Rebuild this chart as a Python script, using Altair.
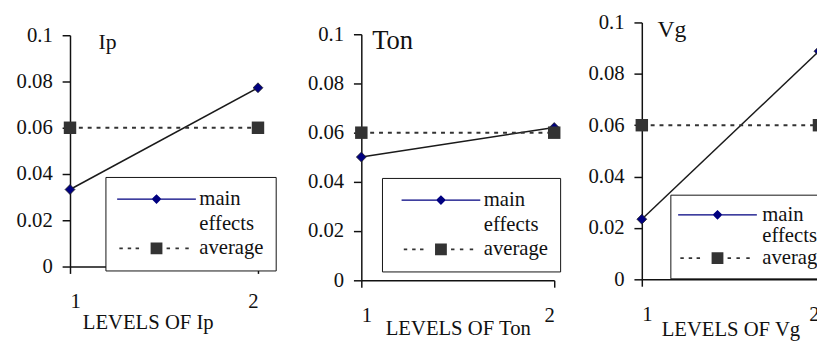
import altair as alt
import pandas as pd

# ---------------- data ----------------
factors = ["Ip", "Ton", "Vg"]
levels = [1, 2]
main_ip = [0.0333, 0.0773]
main_ton = [0.0501, 0.0621]
main_vg = [0.0234, 0.0888]
avg_ip = [0.06, 0.06]
avg_ton = [0.06, 0.06]
avg_vg = [0.06, 0.06]
y_ticks = [0, 0.02, 0.04, 0.06, 0.08, 0.1]
legend_labels = ["main", "effects", "average"]

main_vals = {"Ip": main_ip, "Ton": main_ton, "Vg": main_vg}
avg_vals = {"Ip": avg_ip, "Ton": avg_ton, "Vg": avg_vg}

# ---------------- style ----------------
FONT = "Liberation Serif"
INK = "#111111"
NAVY = "#000080"
DARK = "#333333"

# legend symbol paths (unit box [-1,1], scaled by symbol size)
P_MAIN = "M-8,-0.13H8V0.13H-8ZM0,-1L1,0L0,1L-1,0Z"
_dashes = "".join(
    f"M{c-0.35:.2f},-0.18H{c+0.35:.2f}V0.18H{c-0.35:.2f}Z"
    for c in [-7.2, -5.5, -3.9, 2.4, 4.2, 6.2]
)
P_AVG = "M-1.2,-1.2H1.2V1.2H-1.2Z" + _dashes
P_BLANK = "M0,0"

styles = {
    "Ip": dict(w=191, h=235, sp_h=2, sp_w=236, lx=36, ly=144, so=29.4, lo=33,
               pad=12, rp=3, nf=22, ndx=29, ndy=14, ty=46, tx=79),
    "Ton": dict(w=196, h=250, sp_h=1, sp_w=230, lx=21, ly=146, so=37.4, lo=33,
                pad=12, rp=3, nf=27, ndx=11, ndy=15, ty=38, tx=None),
    "Vg": dict(w=180, h=261, sp_h=0, sp_w=0, lx=29, ly=175, so=27.4, lo=35,
               pad=10, rp=0, nf=24, ndx=16, ndy=15, ty=40, tx=None),
}

IND = dict(color="independent", shape="independent")


def panel(name):
    st = styles[name]
    df = pd.DataFrame({
        "level": levels * 2,
        "value": main_vals[name] + avg_vals[name],
        "series": ["main"] * len(levels) + ["average"] * len(levels),
    })
    xaxis_kw = dict(values=levels, format="d", title=f"LEVELS OF {name}",
                    tickSize=7, labelPadding=18, titleY=st["ty"],
                    titleBaseline="top", labelFontSize=21, titleFontSize=21)
    if st["tx"] is not None:
        xaxis_kw["titleX"] = st["tx"]
    x = alt.X("level:Q",
              scale=alt.Scale(domain=[levels[0], levels[-1]], nice=False, zero=False),
              axis=alt.Axis(**xaxis_kw))
    y = alt.Y("value:Q",
              scale=alt.Scale(domain=[y_ticks[0], y_ticks[-1]], nice=False),
              axis=alt.Axis(values=y_ticks, format="~g", title=None, tickSize=8,
                            labelPadding=10, labelFontSize=21))

    base = alt.Chart(df).encode(x=x, y=y)
    main_line = base.transform_filter(alt.datum.series == "main").mark_line(
        color="#1a1a1a", strokeWidth=1.5)
    main_pts = base.transform_filter(alt.datum.series == "main").mark_point(
        shape="diamond", filled=True, size=100, fill=NAVY, stroke="#222222",
        strokeWidth=0.8, opacity=1)
    avg_line = base.transform_filter(alt.datum.series == "average").mark_line(
        color=DARK, strokeWidth=2, strokeDash=[4, 5])
    avg_pts = base.transform_filter(alt.datum.series == "average").mark_point(
        shape="square", filled=True, size=160, color=DARK, opacity=1)

    name_df = pd.DataFrame({"name": [name], "level": [levels[0]], "value": [y_ticks[-1]]})
    name_txt = alt.Chart(name_df).mark_text(
        font=FONT, fontSize=st["nf"], color=INK, align="left",
        baseline="alphabetic", dx=st["ndx"], dy=st["ndy"]).encode(
        x=x, y=y, text="name:N")

    leg = alt.Legend(
        title=None, orient="none", legendX=st["lx"], legendY=st["ly"],
        padding=st["pad"], symbolOffset=st["so"], labelOffset=st["lo"],
        symbolSize=100, symbolOpacity=1, strokeColor=INK, fillColor="white",
        labelFont=FONT, labelFontSize=21, labelColor=INK, rowPadding=st["rp"])
    leg_df = pd.DataFrame({"label": legend_labels})
    leg_layer = alt.Chart(leg_df).mark_point(filled=True, size=0, opacity=1).encode(
        color=alt.Color("label:N", legend=leg,
                        scale=alt.Scale(domain=legend_labels,
                                        range=[NAVY, "transparent", DARK])),
        shape=alt.Shape("label:N", legend=leg,
                        scale=alt.Scale(domain=legend_labels,
                                        range=[P_MAIN, P_BLANK, P_AVG])),
    )

    layer = alt.layer(main_line, main_pts, avg_line, avg_pts, name_txt, leg_layer
                      ).properties(width=st["w"], height=st["h"])
    if st["sp_h"] > 0:
        spacer = alt.Chart(pd.DataFrame({"s": [0]})).mark_point(
            size=0, opacity=0, strokeWidth=0).properties(
            width=st["sp_w"], height=st["sp_h"])
        return alt.vconcat(spacer, layer, spacing=0).resolve_scale(
            **IND).resolve_legend(**IND)
    return layer


p_ip, p_ton, p_vg = [panel(f) for f in factors]
left_pair = alt.hconcat(p_ip, p_ton, spacing=5).resolve_scale(**IND).resolve_legend(**IND)

chart = alt.hconcat(left_pair, p_vg, spacing=0).resolve_scale(
    **IND).resolve_legend(**IND).properties(
    padding={"left": 8, "top": 1, "right": -21, "bottom": 0},
    background="white",
).configure_view(stroke=None).configure_axis(
    grid=False, labelFont=FONT, titleFont=FONT, labelColor=INK, titleColor=INK,
    domainColor=INK, tickColor=INK, domainWidth=1.5, tickWidth=1.5,
    titleFontWeight="normal",
)

chart.save("out.html", embed_options={"renderer": "svg", "actions": False})
